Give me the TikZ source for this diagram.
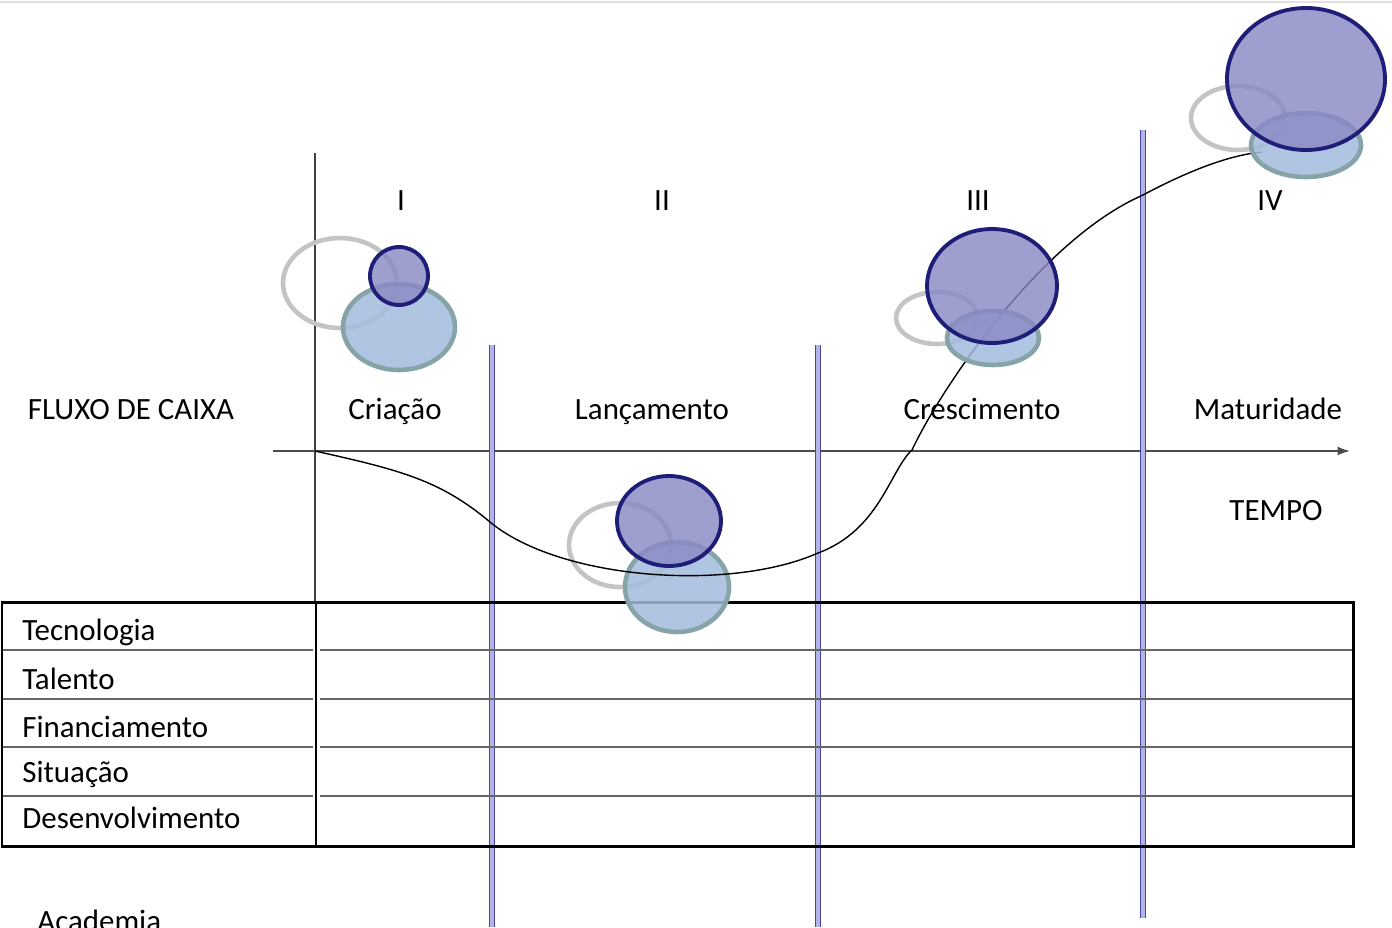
\documentclass[tikz,border=0pt]{standalone}
\usepackage{fontspec}
\setmainfont{Carlito}
\usetikzlibrary{arrows.meta}
\definecolor{navy}{HTML}{1E1E78}
\definecolor{darkfill}{HTML}{8888C4}
\definecolor{lightfill}{HTML}{A2BCDC}
\definecolor{lightedge}{HTML}{86A4A8}
\definecolor{ringgray}{HTML}{C4C4C4}
\definecolor{sepline}{HTML}{4848A8}
\definecolor{sepfill}{HTML}{B4B4E4}
\tikzset{
  lbl/.style={font=\fontsize{17.6}{20}\selectfont, inner sep=0pt, anchor=base},
  ring/.style={draw=ringgray, line width=2.6pt},
  lightell/.style={draw=lightedge, fill=lightfill, fill opacity=0.85, line width=2.6pt},
  darkell/.style={draw=navy, fill=darkfill, fill opacity=0.8, line width=2.2pt},
  sep/.style={draw=sepline, double=sepfill, line width=0.75pt, double distance=1.9pt},
  rowline/.style={draw=black!60, line width=0.9pt},
}
\begin{document}
\begin{tikzpicture}[x=0.02cm,y=-0.02cm]
\useasboundingbox (0,0) rectangle (1392,927);
\fill[white] (0,0) rectangle (1392,927);
\draw[black!12, line width=0.8pt] (0,2) -- (1392,2);

% axes
\coordinate (vtop) at (315,153);
\coordinate (vbot) at (315,602);
\coordinate (hstart) at (273,451);
\coordinate (hend) at (1350,451);
\draw[black!75, line width=0.8pt] (vtop) -- (vbot);
\draw[black!70, line width=0.9pt, -{Latex[length=7pt,width=5pt]}] (hstart) -- (hend);

% stage separators
\coordinate (s1t) at (492,345); \coordinate (s1b) at (492,927);
\coordinate (s2t) at (818,345); \coordinate (s2b) at (818,927);
\coordinate (s3t) at (1143,130); \coordinate (s3b) at (1143,918);
\draw[sep] (s1t) -- (s1b);
\draw[sep] (s2t) -- (s2b);
\draw[sep] (s3t) -- (s3b);

% table
\coordinate (tl) at (2,602); \coordinate (br) at (1353,846);
\draw[line width=1.7pt] (tl) rectangle (br);
\draw[line width=1pt] (316,602) -- (316,846);
\foreach \y in {650,699,747,796}{
  \draw[rowline] (3,\y) -- (313,\y);
  \draw[rowline] (320,\y) -- (1352,\y);
}
\node[lbl, anchor=base west] (tec) at (22,640) {Tecnologia};
\node[lbl, anchor=base west] (tal) at (22,689) {Talento};
\node[lbl, anchor=base west] (fin) at (22,737) {Financiamento};
\node[lbl, anchor=base west] (sit) at (22,782) {Situação};
\node[lbl, anchor=base west] (des) at (22,828) {Desenvolvimento};
\node[lbl, anchor=base west] (aca) at (37,931) {Academia};

% labels
\node[lbl] (fc) at (131,419) {FLUXO DE CAIXA};
\node[lbl] (tempo) at (1276,520) {TEMPO};
\node[lbl] (r1) at (401,210) {I};
\node[lbl] (r2) at (662,210) {II};
\node[lbl] (r3) at (978,210) {III};
\node[lbl] (r4) at (1270,210) {IV};
\node[lbl] (cri) at (395,419) {Criação};
\node[lbl] (lan) at (652,419) {Lançamento};
\node[lbl] (cre) at (982,419) {Crescimento};
\node[lbl] (mat) at (1268,419) {Maturidade};

% group I
\draw[ring] (340,283) ellipse [x radius=57, y radius=45];
\draw[lightell] (399,327) ellipse [x radius=56, y radius=43];
\draw[darkell] (399,276) circle [radius=29];

% group II
\draw[ring] (620,545) ellipse [x radius=51, y radius=42];
\draw[lightell] (677,587) ellipse [x radius=52, y radius=45];

% curve
\coordinate (c0) at (315,451);
\coordinate (c1) at (818,553);
\coordinate (c2) at (1143,195);
\coordinate (c3) at (1262,152);
\draw[black, line width=0.8pt] (c0)
  .. controls (400,470) and (440,480) .. (490,522)
  .. controls (560,580) and (730,592) .. (c1)
  .. controls (880,530) and (890,470) .. (912,450)
  .. controls (940,390) and (1040,240) .. (c2)
  .. controls (1190,170) and (1230,155) .. (c3);

\draw[darkell] (669,521) ellipse [x radius=52, y radius=45];

% group III
\draw[ring] (937,318) ellipse [x radius=41, y radius=26];
\draw[lightell] (993,338) ellipse [x radius=46, y radius=27];
\draw[darkell] (992,286) ellipse [x radius=65, y radius=57];

% group IV
\draw[ring] (1238,118) ellipse [x radius=47, y radius=32];
\draw[lightell] (1306,145) ellipse [x radius=55, y radius=32];
\draw[darkell] (1306,79) ellipse [x radius=79, y radius=71];
\end{tikzpicture}
\end{document}
